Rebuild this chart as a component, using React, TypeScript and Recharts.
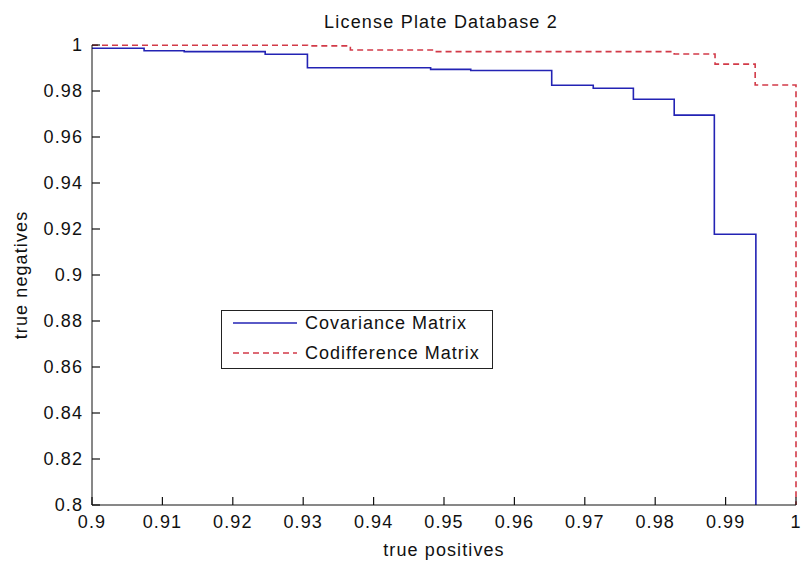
import { LineChart, Line, XAxis, YAxis } from 'recharts'

// step curves: x = true positives, y = true negatives
const covX = [0.9, 0.9074, 0.9131, 0.9246, 0.9306, 0.9481, 0.9538, 0.9653, 0.9712, 0.9769, 0.9827, 0.9884, 0.9943]
const covY = [0.9986, 0.9975, 0.9971, 0.996, 0.9901, 0.9894, 0.9889, 0.9825, 0.9812, 0.9764, 0.9695, 0.9177, 0.8]

const codX = [0.9, 0.9306, 0.9367, 0.9486, 0.9827, 0.9885, 0.9942, 1.0]
const codY = [0.9999, 0.9996, 0.9978, 0.9971, 0.9961, 0.9917, 0.9826, 0.8]

const xTicks = [0.9, 0.91, 0.92, 0.93, 0.94, 0.95, 0.96, 0.97, 0.98, 0.99, 1]
const yTicks = [0.8, 0.82, 0.84, 0.86, 0.88, 0.9, 0.92, 0.94, 0.96, 0.98, 1]

const seriesNames = ['Covariance Matrix', 'Codifference Matrix']

const BLUE = '#2323b4'
const RED = '#d23a48'
const INK = '#111'
const FONT = '"Liberation Sans", Arial, sans-serif'
const TICK_LEN = 8
const X_GAP = 10
const Y_GAP = 9

const covData = covX.map((x, i) => ({ x, y: covY[i] }))
const codData = codX.map((x, i) => ({ x, y: codY[i] }))

const fmt = (v: number) => (v === 1 ? '1' : String(v))

// matlab style: tick marks point into the plot
function XTick(props: any) {
  const { x, y, payload } = props
  const axisY = y - X_GAP
  return (
    <g>
      <line x1={x} y1={axisY} x2={x} y2={axisY - TICK_LEN} stroke={INK} strokeWidth={1.2} />
      <text x={x} y={y} dy="0.71em" textAnchor="middle" fontSize={18} fontFamily={FONT} letterSpacing={1.1} fill={INK}>
        {fmt(payload.value)}
      </text>
    </g>
  )
}

function YTick(props: any) {
  const { x, y, payload } = props
  const axisX = x + Y_GAP
  return (
    <g>
      <line x1={axisX} y1={y} x2={axisX + TICK_LEN} y2={y} stroke={INK} strokeWidth={1.2} />
      <text x={x} y={y} dy="0.36em" textAnchor="end" fontSize={18} fontFamily={FONT} letterSpacing={1.1} fill={INK}>
        {fmt(payload.value)}
      </text>
    </g>
  )
}

function LegendBox() {
  const rows = [
    { name: seriesNames[0], color: BLUE, dash: undefined },
    { name: seriesNames[1], color: RED, dash: '6 4' },
  ]
  return (
    <div style={{
      position: 'absolute', left: 221, top: 310, width: 270, height: 57,
      border: '1px solid #222', background: '#fff', fontFamily: FONT,
    }}>
      {rows.map((r, i) => (
        <div key={r.name} style={{
          position: 'absolute', left: 11, top: 1 + i * 30, height: 22,
          display: 'flex', alignItems: 'center',
        }}>
          <svg width={64} height={4} style={{ display: 'block' }}>
            <line x1={0} y1={2} x2={64} y2={2} stroke={r.color} strokeWidth={1.5} strokeDasharray={r.dash} />
          </svg>
          <span style={{ marginLeft: 8, fontSize: 18, letterSpacing: 1.0, color: INK, whiteSpace: 'nowrap' }}>
            {r.name}
          </span>
        </div>
      ))}
    </div>
  )
}

export default function App() {
  return (
    <div style={{ position: 'absolute', left: 0, top: 0, width: 801, height: 562, background: '#fff' }}>
      <LineChart width={801} height={562} margin={{ top: 45, right: 5, bottom: 5, left: 22 }}>
        <XAxis
          type="number"
          dataKey="x"
          domain={[0.9, 1]}
          ticks={xTicks}
          tick={<XTick />}
          tickLine={false}
          tickSize={0}
          tickMargin={X_GAP}
          height={52}
          stroke={INK}
          interval={0}
        />
        <YAxis
          type="number"
          dataKey="y"
          domain={[0.8, 1]}
          ticks={yTicks}
          tick={<YTick />}
          tickLine={false}
          tickSize={0}
          tickMargin={Y_GAP}
          width={70}
          stroke={INK}
          interval={0}
        />
        <Line
          data={covData}
          dataKey="y"
          type="stepAfter"
          stroke={BLUE}
          strokeWidth={1.6}
          dot={false}
          isAnimationActive={false}
          name={seriesNames[0]}
        />
        <Line
          data={codData}
          dataKey="y"
          type="stepAfter"
          stroke={RED}
          strokeWidth={1.6}
          strokeDasharray="6 4"
          dot={false}
          isAnimationActive={false}
          name={seriesNames[1]}
        />
        <text x={441} y={28} textAnchor="middle" fontSize={18} fontFamily={FONT} letterSpacing={1.2} fill={INK}>
          License Plate Database 2
        </text>
        <text x={444} y={556} textAnchor="middle" fontSize={18} fontFamily={FONT} letterSpacing={1.1} fill={INK}>
          true positives
        </text>
        <text x={27} y={275} textAnchor="middle" fontSize={18} fontFamily={FONT} letterSpacing={1.1} fill={INK}
          transform="rotate(-90, 27, 275)">
          true negatives
        </text>
      </LineChart>
      <LegendBox />
    </div>
  )
}
